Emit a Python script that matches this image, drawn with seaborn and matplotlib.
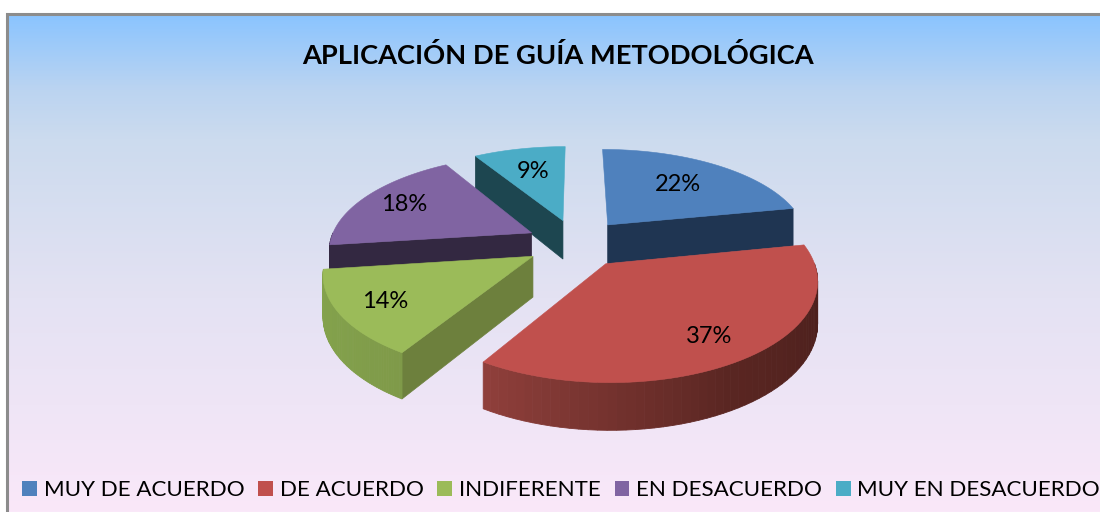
import numpy as np
import matplotlib
matplotlib.use('Agg')
import matplotlib.pyplot as plt
from matplotlib.colors import LinearSegmentedColormap
from matplotlib.patches import Patch
import seaborn as sns

# datos del grafico
categorias = ['MUY DE ACUERDO', 'DE ACUERDO', 'INDIFERENTE', 'EN DESACUERDO', 'MUY EN DESACUERDO']
valores = [22, 37, 14, 18, 9]
titulo = 'APLICACIÓN DE GUÍA METODOLÓGICA'

# colores
colores = ['#4F81BD', '#C0504D', '#9BBB59', '#8064A2', '#4BACC6']
colores_corte = ['#1F3552', '#C0504D', '#6D803D', '#332841', '#1D4650']
borde_izq = ['#1F3552', '#8F3F3B', '#84A24C', '#332841', '#1D4650']
borde_med = ['#1F3552', '#5A2622', '#82A04B', '#332841', '#1D4650']
borde_der = ['#1F3552', '#481E1B', '#7F9A49', '#332841', '#1D4650']

sns.set_theme(style='white')
plt.rcParams['font.family'] = ['Lato', 'DejaVu Sans']

# proyeccion del pastel en pixeles
cx, cy = 576.5, 243
radio = 202
inclinacion = 0.48
perspectiva = 0.16
grosor = 40
separacion = 0.25
radio_etiqueta = [0.63, 0.78, 0.78, 0.76, 0.64]


def proyectar(x, y, z=0):
    s = 1 - perspectiva * y
    return cx + radio * x * s, cy - radio * inclinacion * y * s + grosor * z * s


fig = plt.figure(figsize=(11, 5.12), dpi=100)
ax = fig.add_axes([0, 0, 1, 1])
ax.set_xlim(0, 1100)
ax.set_ylim(512, 0)
ax.axis('off')

# fondo degradado y marco
fondo = LinearSegmentedColormap.from_list('fondo', [
    (0.0, (138 / 255, 196 / 255, 255 / 255)),
    (0.15, (187 / 255, 212 / 255, 241 / 255)),
    (0.25, (204 / 255, 219 / 255, 238 / 255)),
    (0.57, (228 / 255, 226 / 255, 243 / 255)),
    (1.0, (250 / 255, 232 / 255, 249 / 255)),
])
ax.imshow(np.linspace(0, 1, 256).reshape(-1, 1), cmap=fondo, aspect='auto',
          extent=(7, 1100, 512, 14), zorder=0)
ax.plot([7, 7, 1100], [512, 14, 14], color='#8C8C8C', lw=2.2, zorder=1, solid_joinstyle='miter')
ax.set_xlim(0, 1100)
ax.set_ylim(512, 0)

# angulos de cada porcion, en sentido horario desde arriba
fracciones = np.array(valores) / np.sum(valores) * 360
fin = np.cumsum(fracciones)
inicio = fin - fracciones
medio = (inicio + fin) / 2

porciones = []
for i in range(len(valores)):
    ex = separacion * np.sin(np.radians(medio[i]))
    ey = separacion * np.cos(np.radians(medio[i]))
    porciones.append((i, ex, ey))

# orden de dibujo, de atras hacia adelante
for i in [0, 4, 3, 2, 1]:
    _, ex, ey = porciones[i]
    ang = np.radians(np.linspace(inicio[i], fin[i], 80))
    xs = ex + np.sin(ang)
    ys = ey + np.cos(ang)

    # caras de corte visibles
    for a, signo in [(inicio[i], -90), (fin[i], 90)]:
        if np.cos(np.radians(a + signo)) < -1e-6:
            bx, by = ex + np.sin(np.radians(a)), ey + np.cos(np.radians(a))
            p = [proyectar(ex, ey), proyectar(bx, by), proyectar(bx, by, 1), proyectar(ex, ey, 1)]
            ax.fill(*zip(*p), color=colores_corte[i], lw=0.5, zorder=2)

    # borde exterior con degradado
    a_vis = np.clip(np.linspace(inicio[i], fin[i], 60), 90, 270)
    a_vis = np.unique(a_vis)
    if len(a_vis) > 1:
        tonos = sns.blend_palette([borde_der[i], borde_med[i], borde_izq[i]], len(a_vis) - 1)
        for j in range(len(a_vis) - 1):
            a0, a1 = np.radians(a_vis[j]), np.radians(a_vis[j + 1])
            p = [proyectar(ex + np.sin(a0), ey + np.cos(a0)),
                 proyectar(ex + np.sin(a1), ey + np.cos(a1)),
                 proyectar(ex + np.sin(a1), ey + np.cos(a1), 1),
                 proyectar(ex + np.sin(a0), ey + np.cos(a0), 1)]
            ax.fill(*zip(*p), color=tonos[j], lw=0.6, zorder=2)

    # cara superior
    sx, sy = proyectar(np.r_[ex, xs], np.r_[ey, ys])
    ax.fill(sx, sy, color=colores[i], lw=0.4, zorder=2)

# etiquetas de porcentaje
for i in range(len(valores)):
    _, ex, ey = porciones[i]
    r = radio_etiqueta[i]
    lx, ly = proyectar(ex + r * np.sin(np.radians(medio[i])), ey + r * np.cos(np.radians(medio[i])))
    ax.text(lx, ly, f'{valores[i]}%', ha='center', va='center', fontsize=17, color='black', zorder=3)

ax.text(558, 55, titulo, ha='center', va='center', fontsize=19.65, fontweight='bold', color='black', zorder=3)

# leyenda
manijas = [Patch(facecolor=c, edgecolor='none') for c in colores]
ax.legend(manijas, categorias, ncol=5, frameon=False, loc='lower left',
          bbox_to_anchor=(22 / 1100, 12 / 512), bbox_transform=ax.transAxes, borderaxespad=0, borderpad=0,
          fontsize=16.15, handlelength=0.66, handleheight=0.66, handletextpad=0.3, columnspacing=0.62,
          labelcolor='black')

fig.savefig('out.png', dpi=100)
